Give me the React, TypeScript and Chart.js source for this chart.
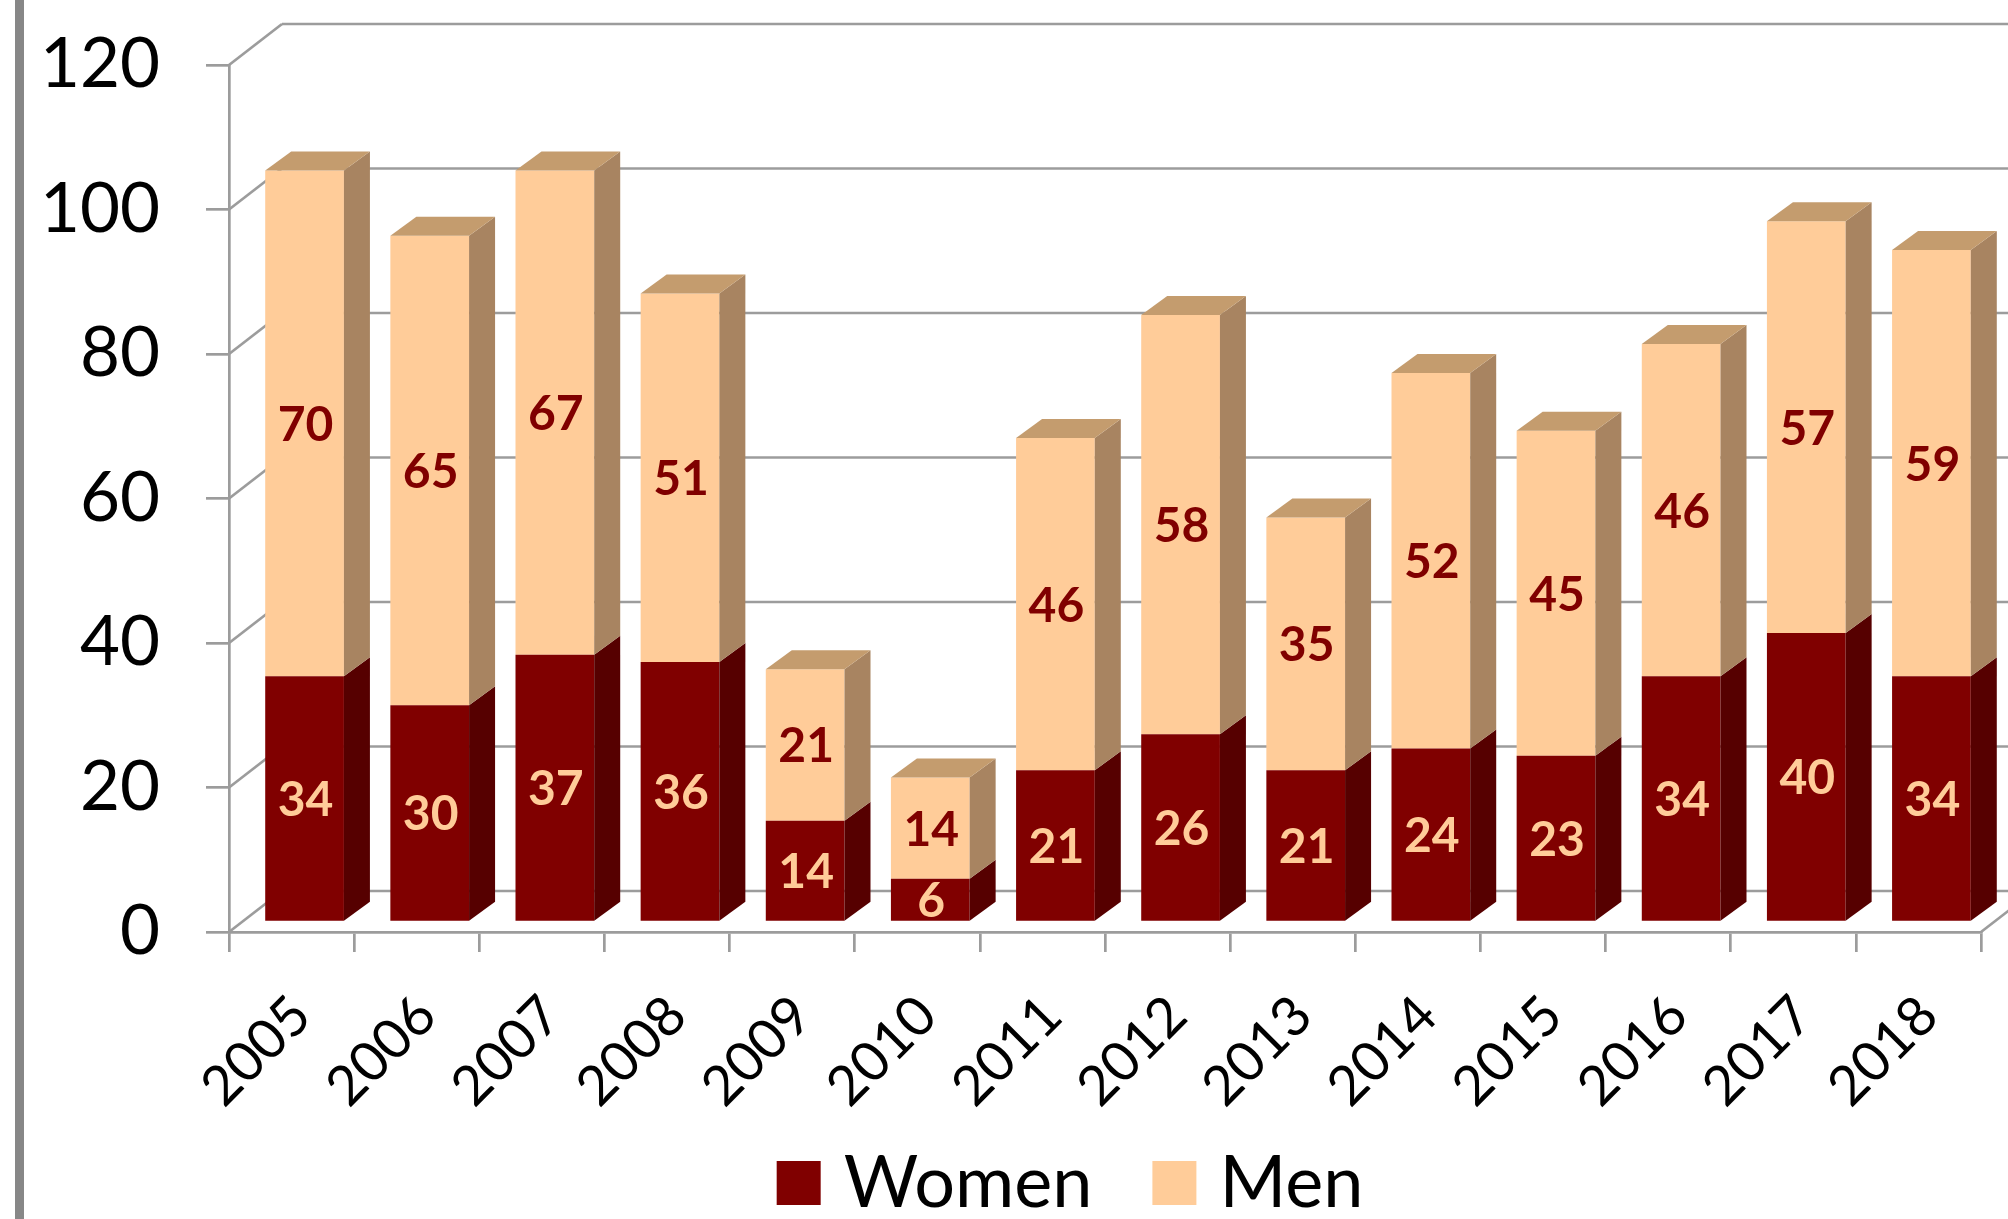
import { useEffect, useRef } from 'react';
import { Chart, registerables } from 'chart.js';

Chart.register(...registerables);

const categories = ['2005', '2006', '2007', '2008', '2009', '2010', '2011', '2012', '2013', '2014', '2015', '2016', '2017', '2018'];
const women = [34, 30, 37, 36, 14, 6, 21, 26, 21, 24, 23, 34, 40, 34];
const men = [70, 65, 67, 51, 21, 14, 46, 58, 35, 52, 45, 46, 57, 59];
const seriesNames = ['Women', 'Men'];
const yTicks = [0, 20, 40, 60, 80, 100, 120];

const W = 2008;
const H = 1219;
const FONT = 'Lato, "Open Sans", sans-serif';
const GRID = '#9c9c9c';

// 3D geometry (pixels)
const WALL_DX = 53;
const WALL_DY = -41;
const BAR_DX = 13;
const BAR_DY = -10;
const SIDE_DX = 26;
const SIDE_DY = -19;

const faceColors = [
  { front: '#800000', side: '#560000', top: '#6a0000', label: '#FFCC99' },
  { front: '#FFCC99', side: '#a88461', top: '#c49c6e', label: '#800000' },
];

const threeD = {
  id: 'threeD',
  beforeDraw(chart: any) {
    const { ctx } = chart;
    ctx.save();
    ctx.fillStyle = '#ffffff';
    ctx.fillRect(0, 0, chart.width, chart.height);
    ctx.fillStyle = '#878787';
    ctx.fillRect(15, 0, 9, chart.height);
    ctx.restore();
  },
  beforeDatasetsDraw(chart: any) {
    const { ctx } = chart;
    const x = chart.scales.x;
    const y = chart.scales.y;
    ctx.save();
    ctx.strokeStyle = GRID;
    ctx.lineWidth = 2.7;
    ctx.lineCap = 'butt';
    yTicks.forEach((v) => {
      const py = y.getPixelForValue(v);
      ctx.beginPath();
      ctx.moveTo(x.left + WALL_DX, py + WALL_DY);
      ctx.lineTo(x.right + WALL_DX + 40, py + WALL_DY);
      ctx.stroke();
      ctx.beginPath();
      ctx.moveTo(x.left, py);
      ctx.lineTo(x.left + WALL_DX, py + WALL_DY);
      ctx.stroke();
    });
    const p0 = y.getPixelForValue(0);
    ctx.beginPath();
    ctx.moveTo(x.right, p0);
    ctx.lineTo(x.right + WALL_DX, p0 + WALL_DY);
    ctx.stroke();
    ctx.restore();
    ctx.save();
    ctx.translate(BAR_DX, BAR_DY);
  },
  afterDatasetsDraw(chart: any) {
    const { ctx } = chart;
    const n = chart.data.labels.length;
    const nd = chart.data.datasets.length;
    for (let i = 0; i < n; i++) {
      for (let d = 0; d < nd; d++) {
        const el = chart.getDatasetMeta(d).data[i];
        if (!el) continue;
        const p = el.getProps(['x', 'y', 'base', 'width'], true);
        const left = p.x - p.width / 2;
        const right = p.x + p.width / 2;
        const top = Math.min(p.y, p.base);
        const bottom = Math.max(p.y, p.base);
        const c = faceColors[d];
        ctx.fillStyle = c.side;
        ctx.beginPath();
        ctx.moveTo(right, bottom);
        ctx.lineTo(right, top);
        ctx.lineTo(right + SIDE_DX, top + SIDE_DY);
        ctx.lineTo(right + SIDE_DX, bottom + SIDE_DY);
        ctx.closePath();
        ctx.fill();
        if (d === nd - 1) {
          ctx.fillStyle = c.top;
          ctx.beginPath();
          ctx.moveTo(left, top);
          ctx.lineTo(right, top);
          ctx.lineTo(right + SIDE_DX, top + SIDE_DY);
          ctx.lineTo(left + SIDE_DX, top + SIDE_DY);
          ctx.closePath();
          ctx.fill();
        }
      }
    }
    // data labels
    ctx.font = `bold 48px ${FONT}`;
    ctx.textAlign = 'center';
    ctx.textBaseline = 'middle';
    for (let d = 0; d < nd; d++) {
      const ds = chart.data.datasets[d];
      chart.getDatasetMeta(d).data.forEach((el: any, i: number) => {
        const p = el.getProps(['x', 'y', 'base'], true);
        ctx.fillStyle = faceColors[d].label;
        ctx.fillText(String(ds.data[i]), p.x + 1, (p.y + p.base) / 2 + 2);
      });
    }
    ctx.restore();
  },
  afterDraw(chart: any) {
    const { ctx } = chart;
    ctx.save();
    ctx.font = `72px ${FONT}`;
    const box = 44;
    const gapText = 23;
    const gapItem = 60;
    const items = chart.data.datasets.map((ds: any, d: number) => ({
      text: ds.label,
      color: faceColors[d].front,
      w: ctx.measureText(ds.label).width,
    }));
    const total = items.reduce((s: number, it: any) => s + box + gapText + it.w, 0) + gapItem * (items.length - 1);
    let x = 1070 - total / 2;
    ctx.textBaseline = 'alphabetic';
    ctx.textAlign = 'left';
    items.forEach((it: any) => {
      ctx.fillStyle = it.color;
      ctx.fillRect(x, 1161, box, box);
      x += box + gapText;
      ctx.fillStyle = '#000000';
      ctx.fillText(it.text, x, 1207);
      x += it.w + gapItem;
    });
    ctx.restore();
  },
};

export default function App() {
  const ref = useRef<HTMLCanvasElement | null>(null);
  useEffect(() => {
    if (!ref.current) return;
    const chart = new Chart(ref.current, {
      type: 'bar',
      data: {
        labels: categories,
        datasets: [
          { label: seriesNames[0], data: women, backgroundColor: faceColors[0].front, borderWidth: 0, clip: false as any },
          { label: seriesNames[1], data: men, backgroundColor: faceColors[1].front, borderWidth: 0, clip: false as any },
        ],
      },
      options: {
        animation: false,
        responsive: false,
        devicePixelRatio: 1,
        events: [],
        layout: { padding: { top: 65, right: 27, bottom: 0, left: 0 } },
        plugins: { legend: { display: false }, tooltip: { enabled: false } },
        datasets: { bar: { categoryPercentage: 1, barPercentage: 0.629 } },
        scales: {
          x: {
            stacked: true,
            offset: true,
            grid: { display: true, drawOnChartArea: false, drawTicks: true, tickLength: 20, color: GRID, lineWidth: 2.7, offset: true },
            border: { display: true, color: GRID, width: 2.7 },
            ticks: {
              minRotation: 45,
              maxRotation: 45,
              autoSkip: false,
              padding: 31,
              labelOffset: 10,
              color: '#000000',
              font: { family: FONT, size: 55 },
            },
            afterFit: (scale: any) => {
              scale.height = 287;
              scale.paddingLeft = 0;
              scale.paddingRight = 0;
            },
          },
          y: {
            stacked: true,
            min: yTicks[0],
            max: yTicks[yTicks.length - 1],
            grid: { display: true, drawOnChartArea: false, drawTicks: true, tickLength: 23, color: GRID, lineWidth: 2.7 },
            border: { display: true, color: GRID, width: 2.7 },
            ticks: {
              stepSize: yTicks[1] - yTicks[0],
              padding: 46,
              color: '#000000',
              font: { family: FONT, size: 69 },
            },
            afterFit: (scale: any) => {
              scale.width = 229;
              scale.paddingTop = 0;
              scale.paddingBottom = 0;
            },
          },
        },
      },
      plugins: [threeD],
    });
    return () => chart.destroy();
  }, []);
  return (
    <div style={{ position: 'absolute', left: 0, top: 0, width: W, height: H, background: '#ffffff' }}>
      <canvas ref={ref} width={W} height={H} style={{ display: 'block', width: W, height: H }} />
    </div>
  );
}
